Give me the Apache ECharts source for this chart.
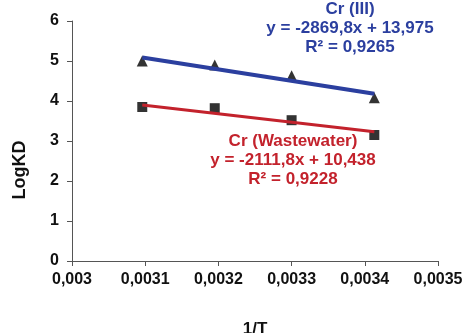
<!DOCTYPE html>
<html>
<head>
<meta charset="utf-8">
<script src="https://cdn.jsdelivr.net/npm/echarts@6/dist/echarts.min.js"></script>
<style>
  html, body { margin: 0; padding: 0; background: #fff; }
  #chart { width: 465px; height: 333px; }
</style>
</head>
<body>
<div id="chart"></div>
<script>
// 1/T values of the four temperatures
const invT = [0.003096, 0.003195, 0.0033, 0.003413];
const crIII = [5.0, 4.9, 4.63, 4.08];
const crWaste = [3.85, 3.82, 3.52, 3.15];
// trend line ends (read from the fitted equations at first/last x)
const trendX = [0.003096, 0.003413];
const trendIII = [5.09, 4.18];
const trendWaste = [3.90, 3.23];
const labelIII = ["Cr (III)", "y = -2869,8x + 13,975", "R² = 0,9265"];
const labelWaste = ["Cr (Wastewater)", "y = -2111,8x + 10,438", "R² = 0,9228"];

const font = "'Liberation Sans', Arial, sans-serif";
const blue = "#2b3f9f";
const red = "#c3222c";

const chart = echarts.init(document.getElementById("chart"));

const pairs = (xs, ys) => xs.map((x, i) => [x, ys[i]]);
const fmtX = (v) => String(+v.toFixed(4)).replace(".", ",");

chart.setOption({
  animation: false,
  grid: {left: 72, right: 27, top: 21, bottom: 72, containLabel: false, outerBoundsMode: "none"},
  xAxis: {
    type: "value",
    min: 0.003, max: 0.0035, interval: 0.0001,
    name: "1/T",
    nameLocation: "middle",
    nameGap: 60,
    nameTextStyle: {fontFamily: font, fontWeight: "bold", fontSize: 17, color: "#111"},
    axisLine: {lineStyle: {color: "#555", width: 1}},
    axisTick: {show: true, length: 5, lineStyle: {color: "#555"}},
    splitLine: {show: false},
    axisLabel: {formatter: fmtX, margin: 11, fontFamily: font, fontWeight: "bold", fontSize: 16, color: "#111"}
  },
  yAxis: {
    type: "value",
    min: 0, max: 6, interval: 1,
    axisLine: {show: true, lineStyle: {color: "#555", width: 1}},
    axisTick: {show: true, length: 5, lineStyle: {color: "#555"}},
    splitLine: {show: false},
    axisLabel: {margin: 13, fontFamily: font, fontWeight: "bold", fontSize: 16, color: "#111"}
  },
  graphic: [
    {
      type: "text", x: 20, y: 170, rotation: Math.PI / 2,
      style: {text: "LogKD", align: "center", verticalAlign: "middle", fontFamily: font, fontWeight: "bold", fontSize: 18, fill: "#111"}
    },
    {
      type: "text", x: 350, y: 28,
      style: {text: labelIII.join("\n"), align: "center", verticalAlign: "middle", lineHeight: 19, fontFamily: font, fontWeight: "bold", fontSize: 17, fill: blue}
    },
    {
      type: "text", x: 293, y: 160,
      style: {text: labelWaste.join("\n"), align: "center", verticalAlign: "middle", lineHeight: 19, fontFamily: font, fontWeight: "bold", fontSize: 17, fill: red}
    }
  ],
  series: [
    {
      name: "Cr (III)", type: "scatter", data: pairs(invT, crIII),
      symbol: "triangle", symbolSize: 11, itemStyle: {color: "#000"}
    },
    {
      name: "Cr (Wastewater)", type: "scatter", data: pairs(invT, crWaste),
      symbol: "rect", symbolSize: 10, itemStyle: {color: "#000"}
    },
    {
      name: "Cr (III) trend", type: "line", data: pairs(trendX, trendIII),
      showSymbol: false, lineStyle: {color: blue, width: 4}
    },
    {
      name: "Cr (Wastewater) trend", type: "line", data: pairs(trendX, trendWaste),
      showSymbol: false, lineStyle: {color: red, width: 3}
    }
  ]
});
</script>
</body>
</html>
